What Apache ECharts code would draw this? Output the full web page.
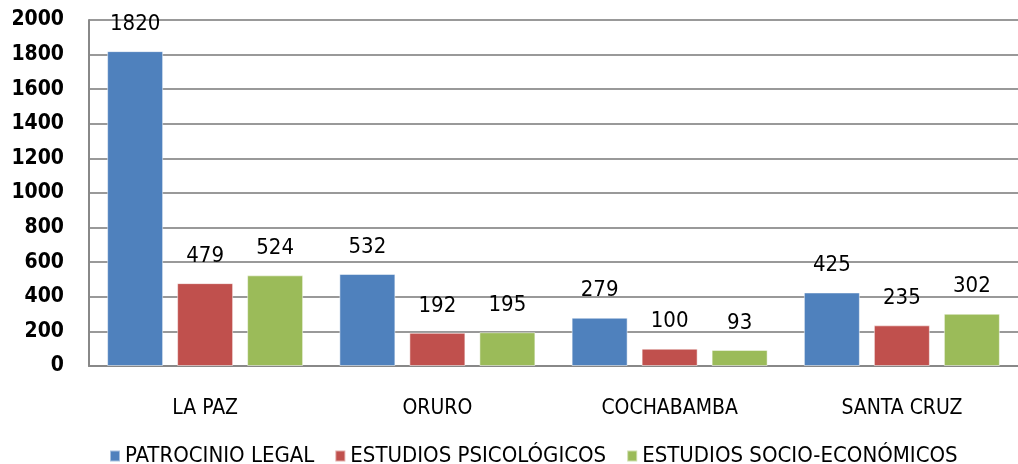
<!DOCTYPE html>
<html>
<head>
<meta charset="utf-8">
<script src="https://cdn.jsdelivr.net/npm/echarts@6/dist/echarts.min.js"></script>
<style>
  html, body { margin: 0; padding: 0; background: #fff; }
  #chart { width: 1018px; height: 464px; }
</style>
</head>
<body>
<div id="chart"></div>
<script>
var categories = ['LA PAZ', 'ORURO', 'COCHABAMBA', 'SANTA CRUZ'];
var patrocinio = [1820, 532, 279, 425];
var psicologicos = [479, 192, 100, 235];
var socioEconomicos = [524, 195, 93, 302];
var yTicks = [0, 200, 400, 600, 800, 1000, 1200, 1400, 1600, 1800, 2000];

var font = '"DejaVu Sans Condensed", "Liberation Sans", sans-serif';

var chart = echarts.init(document.getElementById('chart'));

function bar(name, data, color) {
    return {
        name: name,
        type: 'bar',
        data: data,
        barWidth: 56,
        barGap: '25%',
        itemStyle: { color: color, borderColor: 'rgba(255,255,255,0.5)', borderWidth: 1 },
        label: {
            show: true,
            position: 'top',
            distance: 16,
            color: '#000',
            fontSize: 22,
            fontFamily: font
        }
    };
}

chart.setOption({
    animation: false,
    textStyle: { fontFamily: font },
    grid: { left: 89, right: 0, top: 20, bottom: 98 },
    legend: {
        top: 440,
        left: 104,
        itemWidth: 10,
        itemHeight: 11,
        itemGap: 20,
        icon: 'rect',
        textStyle: { fontSize: 22, color: '#000', fontFamily: font },
        data: ['PATROCINIO LEGAL', 'ESTUDIOS PSICOLÓGICOS', 'ESTUDIOS SOCIO-ECONÓMICOS']
    },
    xAxis: {
        type: 'category',
        data: categories,
        axisLine: { lineStyle: { color: '#888', width: 2 } },
        axisTick: { show: false },
        axisLabel: { color: '#000', fontSize: 21, margin: 32 }
    },
    yAxis: {
        type: 'value',
        min: yTicks[0],
        max: yTicks[yTicks.length - 1],
        interval: 200,
        axisLine: { show: true, lineStyle: { color: '#888', width: 2 } },
        axisTick: { show: false },
        splitLine: { lineStyle: { color: '#999', width: 2 } },
        axisLabel: {
            color: '#000', fontSize: 21, fontWeight: 'bold', margin: 25,
            formatter: function (v) { return String(v); }
        }
    },
    series: [
        bar('PATROCINIO LEGAL', patrocinio, '#4F81BD'),
        bar('ESTUDIOS PSICOLÓGICOS', psicologicos, '#C0504D'),
        bar('ESTUDIOS SOCIO-ECONÓMICOS', socioEconomicos, '#9BBB59')
    ]
});

window.addEventListener('resize', function () {
    chart.resize();
});
</script>
</body>
</html>
